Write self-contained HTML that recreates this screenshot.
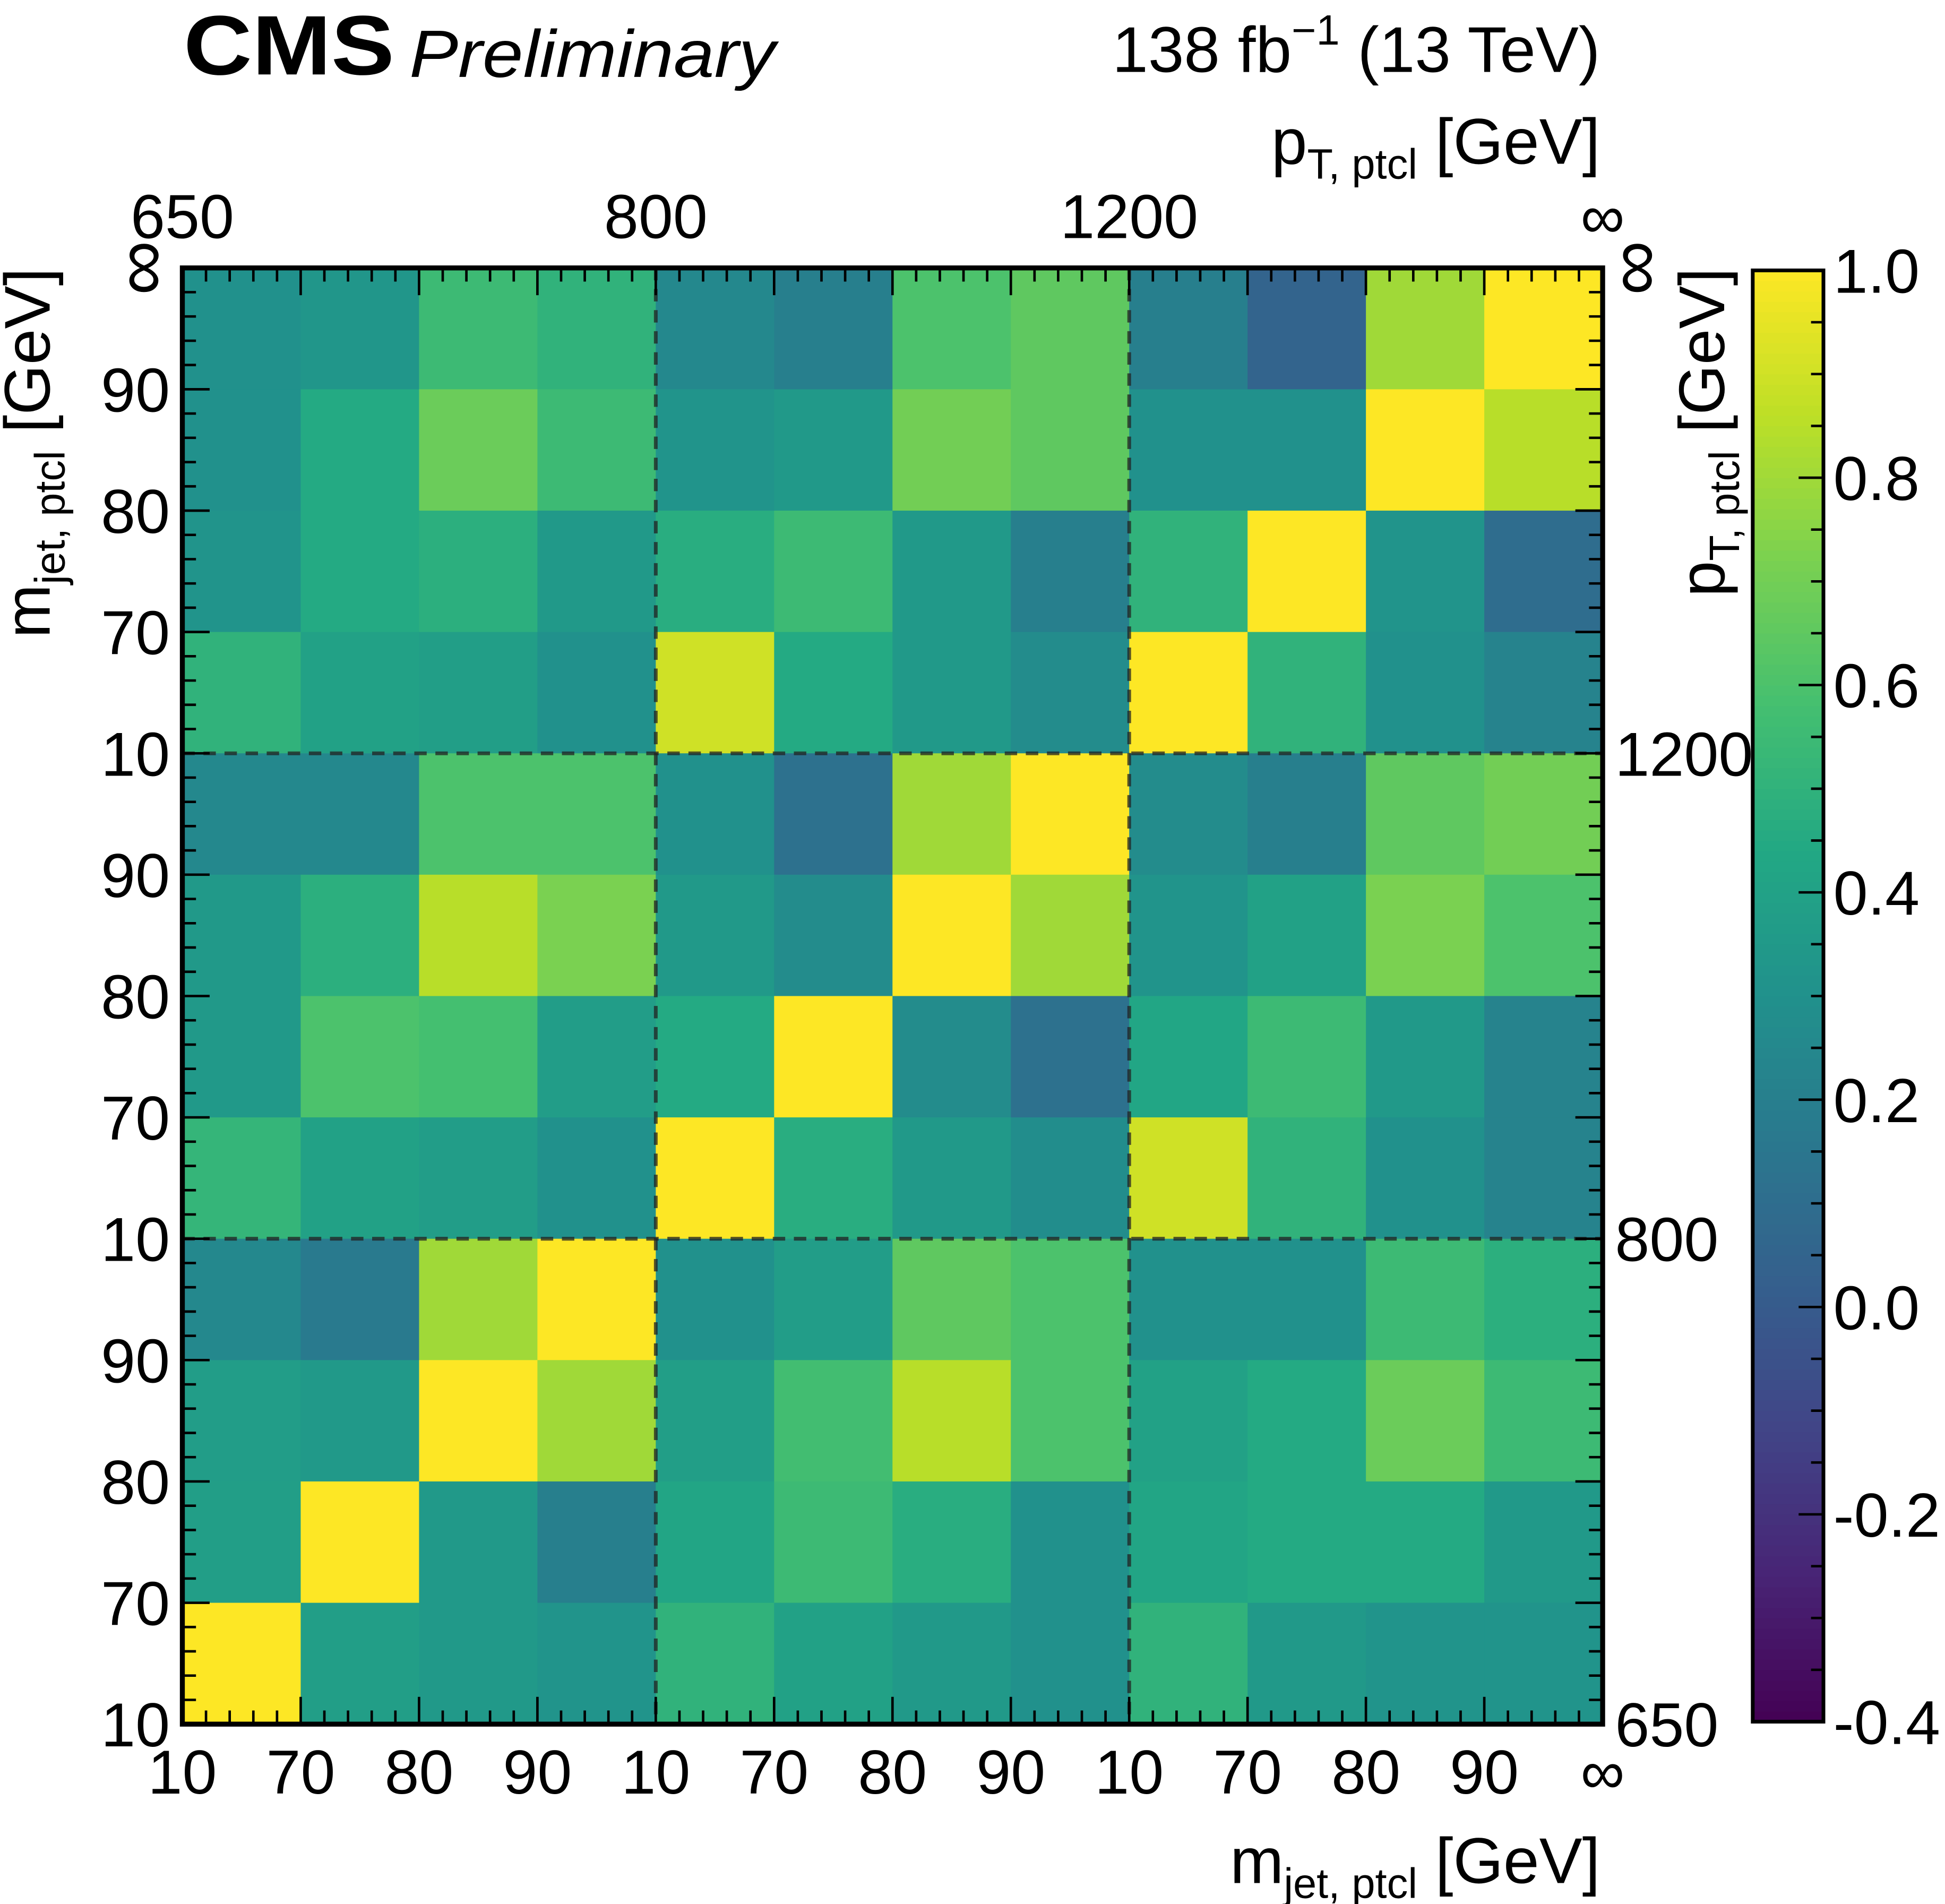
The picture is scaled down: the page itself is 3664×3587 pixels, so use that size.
<!DOCTYPE html>
<html><head><meta charset="utf-8"><style>
html,body{margin:0;padding:0;background:#fff;}
svg{display:block;font-family:"Liberation Sans",Arial,sans-serif;}
</style></head><body>
<svg id="chart" width="3664" height="3587" viewBox="0 0 1568 1535" preserveAspectRatio="none" xmlns="http://www.w3.org/2000/svg">
<g id="cells"></g>
<g id="grid"></g>
<g id="ticks"></g>
<g id="labels"></g>
<g id="cbar"></g>
<text x="148" y="60" font-size="68" font-weight="bold" textLength="170" lengthAdjust="spacingAndGlyphs">CMS</text>
<text x="330" y="62" font-size="54" font-style="italic" textLength="295" lengthAdjust="spacingAndGlyphs">Preliminary</text>
<text x="1290" y="58" font-size="52" text-anchor="end">138 fb<tspan font-size="34" dy="-22">−1</tspan><tspan dy="22"> (13 TeV)</tspan></text>
<text x="1290" y="132" font-size="52" text-anchor="end">p<tspan font-size="34" dy="12">T, ptcl</tspan><tspan dy="-12"> [GeV]</tspan></text>
<text x="1290" y="1518" font-size="52" text-anchor="end">m<tspan font-size="34" dy="12">jet, ptcl</tspan><tspan dy="-12"> [GeV]</tspan></text>
<text transform="translate(40,216) rotate(-90)" font-size="52" text-anchor="end">m<tspan font-size="34" dy="12">jet, ptcl</tspan><tspan dy="-12"> [GeV]</tspan></text>
<text transform="translate(1390,216) rotate(-90)" font-size="52" text-anchor="end">p<tspan font-size="34" dy="12">T, ptcl</tspan><tspan dy="-12"> [GeV]</tspan></text>
<rect x="147" y="216" width="1145" height="1174" fill="none" stroke="#000" stroke-width="4"/>
</svg>
<script>
const values = [
[0.30,0.33,0.55,0.50,0.25,0.20,0.60,0.65,0.20,0.05,0.80,1.00],
[0.30,0.45,0.68,0.55,0.32,0.35,0.70,0.65,0.30,0.30,1.00,0.85],
[0.32,0.45,0.48,0.35,0.47,0.55,0.35,0.20,0.50,1.00,0.32,0.10],
[0.50,0.40,0.38,0.30,0.90,0.45,0.35,0.27,1.00,0.50,0.30,0.22],
[0.25,0.25,0.60,0.60,0.30,0.12,0.80,1.00,0.27,0.20,0.65,0.70],
[0.35,0.48,0.85,0.72,0.35,0.27,1.00,0.80,0.32,0.40,0.72,0.60],
[0.35,0.60,0.58,0.37,0.45,1.00,0.27,0.12,0.43,0.55,0.35,0.22],
[0.52,0.40,0.37,0.30,1.00,0.47,0.35,0.28,0.90,0.50,0.30,0.22],
[0.25,0.17,0.80,1.00,0.30,0.37,0.65,0.60,0.30,0.30,0.55,0.48],
[0.37,0.35,1.00,0.80,0.38,0.57,0.85,0.60,0.40,0.45,0.68,0.55],
[0.38,1.00,0.35,0.20,0.42,0.55,0.47,0.30,0.42,0.45,0.45,0.35],
[1.00,0.38,0.35,0.32,0.50,0.40,0.35,0.30,0.50,0.35,0.32,0.32]
];
const binLabels = ["10","70","80","90","10","70","80","90","10","70","80","90","∞"];
const ptLabels = ["650","800","1200","∞"];
const ptBoundaryIdx = [0,4,8,12];
const cbarTicks = [-0.4,-0.2,0.0,0.2,0.4,0.6,0.8,1.0];
const zMin=-0.4, zMax=1.0;

const NS="http://www.w3.org/2000/svg";
const X0=147,X1=1292,Y0=216,Y1=1390,N=12;
const xs=i=>X0+(X1-X0)*i/N;
const ys=i=>Y1-(Y1-Y0)*i/N;
const stops=["440154","482475","414487","355f8d","2a788e","21918c","22a884","44bf70","7ad151","bddf26","fde725"];
function viridis(v){let t=Math.max(0,Math.min(1,(v-zMin)/(zMax-zMin)))*10;let k=Math.min(9,Math.floor(t));let f=t-k;
 const a=stops[k],b=stops[k+1];let c=[0,2,4].map(j=>Math.round(parseInt(a.substr(j,2),16)*(1-f)+parseInt(b.substr(j,2),16)*f));return `rgb(${c})`;}
function mk(tag,attrs,parent){const e=document.createElementNS(NS,tag);for(const k in attrs)e.setAttribute(k,attrs[k]);parent.appendChild(e);return e;}
const cells=document.getElementById('cells');
values.forEach((row,r)=>row.forEach((v,c)=>{
 const e=mk('rect',{x:xs(c),y:ys(N-r),width:xs(c+1)-xs(c)+0.5,height:ys(N-r-1)-ys(N-r)+0.5,fill:viridis(v)},cells);
 
 
}));
const grid=document.getElementById('grid');
[4,8].forEach(i=>{
 const a=mk('line',{x1:xs(i),x2:xs(i),y1:Y0,y2:Y1,stroke:'#222',"stroke-width":3,"stroke-dasharray":"10,7",opacity:0.75},grid);
 
 
 const b=mk('line',{x1:X0,x2:X1,y1:ys(i),y2:ys(i),stroke:'#222',"stroke-width":3,"stroke-dasharray":"10,7",opacity:0.75},grid);
 
 
});
const ticks=document.getElementById('ticks');
for(let i=0;i<=N*5;i++){
 const maj=i%5===0,L=maj?22:11;const x=X0+(X1-X0)*i/(N*5),y=Y1-(Y1-Y0)*i/(N*5);
 [[x,Y1,x,Y1-L],[x,Y0,x,Y0+L],[X0,y,X0+L,y],[X1,y,X1-L,y]].forEach(p=>{
  const t=mk('line',{x1:p[0],y1:p[1],x2:p[2],y2:p[3],stroke:'#000',"stroke-width":2},ticks);
  
  
 });
}
const labels=document.getElementById('labels');
binLabels.forEach((s,i)=>{
 const a=mk('text',{x:xs(i),y:1446,"font-size":50,"text-anchor":"middle"},labels);a.textContent=s;
 
 
 let b;
 if(s==="∞"){b=mk('text',{transform:`translate(${134},${ys(i)}) rotate(-90)`,"font-size":62,"text-anchor":"middle"},labels);}
 else b=mk('text',{x:137,y:ys(i)+18,"font-size":50,"text-anchor":"end"},labels);
 b.textContent=s;
 
 
});
ptLabels.forEach((s,k)=>{
 const i=ptBoundaryIdx[k];
 const a=mk('text',{x:xs(i),y:192,"font-size":50,"text-anchor":"middle"},labels);a.textContent=s;
 
 
 let b;
 if(s==="∞"){b=mk('text',{transform:`translate(${1338},${ys(i)}) rotate(-90)`,"font-size":62,"text-anchor":"middle"},labels);}
 else b=mk('text',{x:1302,y:ys(i)+18,"font-size":50},labels);
 b.textContent=s;
 
 
});
const cb=document.getElementById('cbar');
const CX0=1413,CX1=1470,CY0=218,CY1=1388;
const cy=v=>CY1-(CY1-CY0)*(v-zMin)/(zMax-zMin);
for(let k=0;k<140;k++){const v=zMin+(zMax-zMin)*k/140;const h=(CY1-CY0)/140;
 const r=mk('rect',{x:CX0,y:cy(v)-h-0.3,width:CX1-CX0,height:h+0.6,fill:viridis(v+(zMax-zMin)/280)},cb);
 
 }
const fr=mk('rect',{x:CX0,y:CY0,width:CX1-CX0,height:CY1-CY0,fill:'none',stroke:'#000',"stroke-width":3},cb);


for(let i=0;i<=28;i++){const v=zMin+i*0.05;const L=i%4===0?20:10;
 const t=mk('line',{x1:CX1,x2:CX1-L,y1:cy(v),y2:cy(v),stroke:'#000',"stroke-width":2},cb);
 
 }
cbarTicks.forEach(v=>{const t=mk('text',{x:1478,y:cy(v)+18,"font-size":50},cb);t.textContent=v.toFixed(1);
 
 });
</script>
</body></html>
